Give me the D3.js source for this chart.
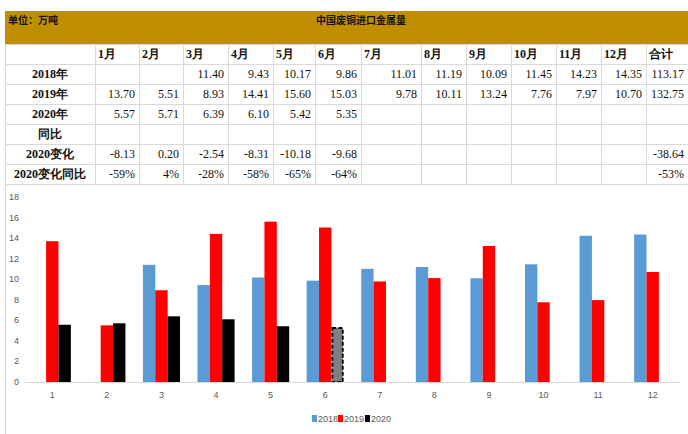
<!DOCTYPE html>
<html><head><meta charset="utf-8">
<script src="https://cdn.jsdelivr.net/npm/d3@7"></script>
<style>
html,body{margin:0;padding:0;background:#fff;}
svg{display:block;}
</style></head>
<body>
<svg id="c" width="688" height="434"></svg>
<script>
const months = ["1月","2月","3月","4月","5月","6月","7月","8月","9月","10月","11月","12月"];
const categories = ["1","2","3","4","5","6","7","8","9","10","11","12"];
const seriesNames = ["2018","2019","2020"];
const v2018 = [null,null,11.40,9.43,10.17,9.86,11.01,11.19,10.09,11.45,14.23,14.35];
const v2019 = [13.70,5.51,8.93,14.41,15.60,15.03,9.78,10.11,13.24,7.76,7.97,10.70];
const v2020 = [5.57,5.71,6.39,6.10,5.42,5.35,null,null,null,null,null,null];
const total2018 = "113.17", total2019 = "132.75";
const change2020 = ["-8.13","0.20","-2.54","-8.31","-10.18","-9.68","","","","","",""];
const changeTotal = "-38.64";
const pct2020 = ["-59%","4%","-28%","-58%","-65%","-64%","","","","","",""];
const pctTotal = "-53%";
const yTicks = [0,2,4,6,8,10,12,14,16,18];
const unitLabel = "单位：万吨";
const title = "中国废铜进口金属量";
const rowLabels = ["2018年","2019年","2020年","同比","2020变化","2020变化同比"];

const svg = d3.select("#c");
const serif = "'Liberation Serif','Times New Roman',serif";
const cjk = "'Noto Sans CJK SC',sans-serif";

// Header band
svg.append("rect").attr("x",5).attr("y",11).attr("width",683).attr("height",33).attr("fill","#BF8F00");
svg.append("text").attr("x",8).attr("y",24).attr("font-family",cjk).attr("font-size",10).attr("font-weight","bold").attr("fill","#111").text(unitLabel);
svg.append("text").attr("x",316).attr("y",24).attr("font-family",cjk).attr("font-size",10).attr("font-weight","bold").attr("fill","#111").text(title);

// Table
const colEdges = [5,95,139,183,228,273,315,361,421,466,511,556,601,646,688];
const rowEdges = [44,64,84,104,124,144,164,184];
const fmt = v => v==null ? "" : v.toFixed(2);
const rows = [
  ["", ...months, "合计"],
  [rowLabels[0], ...v2018.map(fmt), total2018],
  [rowLabels[1], ...v2019.map(fmt), total2019],
  [rowLabels[2], ...v2020.map(fmt), ""],
  [rowLabels[3], ...months.map(()=>""), ""],
  [rowLabels[4], ...change2020, changeTotal],
  [rowLabels[5], ...pct2020, pctTotal]
];
const grid = svg.append("g").attr("stroke","#d9d9d9").attr("stroke-width",1);
rowEdges.forEach(y=>grid.append("line").attr("x1",5).attr("x2",688).attr("y1",y+0.5).attr("y2",y+0.5));
colEdges.forEach(x=>grid.append("line").attr("x1",x+0.5).attr("x2",x+0.5).attr("y1",44).attr("y2",184));
const tg = svg.append("g").attr("font-family",serif).attr("font-size",12).attr("fill","#111");
rows.forEach((r,ri)=>{
  const yc = (rowEdges[ri]+rowEdges[ri+1])/2 + 4;
  r.forEach((cell,ci)=>{
    if(!cell) return;
    const x0 = colEdges[ci], x1 = colEdges[ci+1];
    const t = tg.append("text").attr("y",yc).text(cell);
    if(ri===0){ t.attr("x",x0+3).attr("text-anchor","start").attr("font-weight","bold"); }
    else if(ci===0){ t.attr("x",(x0+x1)/2).attr("text-anchor","middle").attr("font-weight","bold"); }
    else { t.attr("x",x1-4).attr("text-anchor","end"); }
  });
});

// Chart
svg.append("line").attr("x1",5.5).attr("x2",5.5).attr("y1",184).attr("y2",434).attr("stroke","#d9d9d9");
const x = d3.scaleBand().domain(categories).range([25,680]).paddingInner(0.32).paddingOuter(0.16);
const y = d3.scaleLinear().domain([0,18]).range([382,197]);
const xs = d3.scaleBand().domain(seriesNames).range([0,x.bandwidth()]);
const colors = {"2018":"#5B9BD5","2019":"#FF0000","2020":"#000000"};
const data = categories.map((c,i)=>({c, vals:[v2018[i],v2019[i],v2020[i]]}));
const ga = svg.append("g");
data.forEach((d,i)=>{
  d.vals.forEach((v,j)=>{
    if(v==null) return;
    const s = seriesNames[j];
    const r = ga.append("rect")
      .attr("x",x(d.c)+xs(s)).attr("width",xs.bandwidth())
      .attr("y",y(v)).attr("height",y(0)-y(v))
      .attr("fill",colors[s]);
    if(s==="2020" && i===5){
      r.attr("fill","#7f7f7f").attr("stroke","#000").attr("stroke-width",1.8).attr("stroke-dasharray","4,2")
       .attr("x",x(d.c)+xs(s)+1).attr("width",xs.bandwidth()-2).attr("y",y(v)+1).attr("height",y(0)-y(v)-1);
    }
  });
});
// baseline
svg.append("line").attr("x1",25).attr("x2",680).attr("y1",y(0)+0.5).attr("y2",y(0)+0.5).attr("stroke","#d9d9d9");
// y ticks
const yg = svg.append("g").attr("font-family","'Liberation Sans',Arial,sans-serif").attr("font-size",9).attr("fill","#595959");
yTicks.forEach(t=>yg.append("text").attr("x",19).attr("y",y(t)+3).attr("text-anchor","end").text(t));
// x labels
const xg = svg.append("g").attr("font-family","'Liberation Sans',Arial,sans-serif").attr("font-size",9).attr("fill","#595959");
categories.forEach(c=>xg.append("text").attr("x",x(c)+x.bandwidth()/2).attr("y",398).attr("text-anchor","middle").text(c));
// legend
const lg = svg.append("g").attr("font-family","'Liberation Sans',Arial,sans-serif").attr("font-size",9).attr("fill","#595959");
const legX = [312,338,365];
seriesNames.forEach((s,i)=>{
  lg.append("rect").attr("x",legX[i]).attr("y",415).attr("width",5).attr("height",7).attr("fill",colors[s]);
  lg.append("text").attr("x",legX[i]+6).attr("y",422).text(s);
});
</script>
</body></html>
